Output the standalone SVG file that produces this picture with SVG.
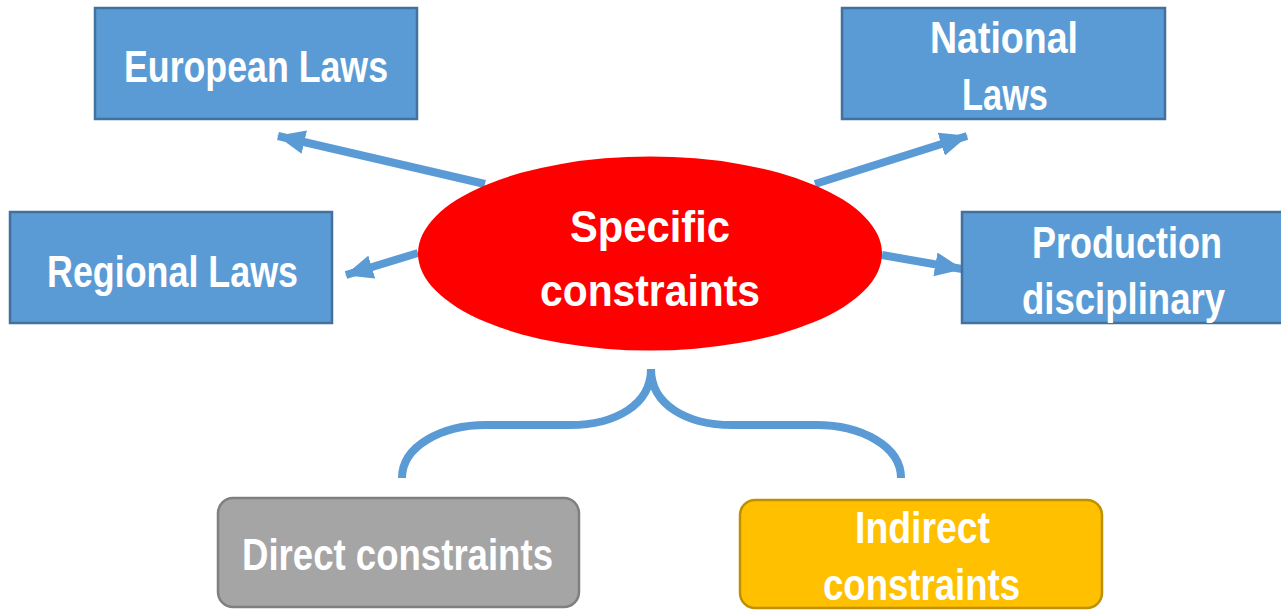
<svg xmlns="http://www.w3.org/2000/svg" width="1281" height="613" viewBox="0 0 1281 613">
<style>
.box{fill:#5B9BD5;stroke:#41719C;stroke-width:2.5}
.t{font-family:"Liberation Sans Narrow","Liberation Sans",Arial,sans-serif;font-weight:bold;fill:#FFFFFF;font-size:45px}
.conn{stroke:#5B9BD5;stroke-width:8;fill:none}
</style>
<defs>
<marker id="ah" viewBox="0 0 28 24" refX="27" refY="12" markerWidth="28" markerHeight="24" markerUnits="userSpaceOnUse" orient="auto">
<path d="M0,0 L28,12 L0,24 Z" fill="#5B9BD5"/>
</marker>
</defs>
<rect width="1281" height="613" fill="#FFFFFF"/>
<g id="connectors">
<line class="conn" x1="485" y1="184" x2="278" y2="136" marker-end="url(#ah)"/>
<line class="conn" x1="418" y1="253" x2="346" y2="275" marker-end="url(#ah)"/>
<line class="conn" x1="815" y1="184" x2="967" y2="136" marker-end="url(#ah)"/>
<line class="conn" x1="882" y1="255" x2="962" y2="269" marker-end="url(#ah)"/>
<path class="conn" d="M402,478 C402,446 442,425 486,425 L570,425 C615,425 651,405 651,369"/>
<path class="conn" d="M651,369 C651,405 687,425 732,425 L816,425 C861,425 901,446 901,478"/>
</g>
<g id="european">
<rect class="box" x="95" y="8" width="322" height="111"/>
<text class="t" x="124" y="82" textLength="264" lengthAdjust="spacingAndGlyphs">European Laws</text>
</g>
<g id="national">
<rect class="box" x="842" y="8" width="323" height="111"/>
<text class="t" x="930" y="53" textLength="148" lengthAdjust="spacingAndGlyphs">National</text>
<text class="t" x="962" y="110" textLength="86" lengthAdjust="spacingAndGlyphs">Laws</text>
</g>
<g id="regional">
<rect class="box" x="10" y="212" width="322" height="111"/>
<text class="t" x="47" y="287" textLength="251" lengthAdjust="spacingAndGlyphs">Regional Laws</text>
</g>
<g id="production">
<rect class="box" x="962" y="212" width="330" height="111"/>
<text class="t" x="1032" y="258" textLength="190" lengthAdjust="spacingAndGlyphs">Production</text>
<text class="t" x="1022" y="314" textLength="203" lengthAdjust="spacingAndGlyphs">disciplinary</text>
</g>
<g id="specific">
<ellipse cx="650" cy="253.5" rx="232" ry="97" fill="#FF0000"/>
<text class="t" x="570" y="242" textLength="160" lengthAdjust="spacingAndGlyphs">Specific</text>
<text class="t" x="540" y="306" textLength="220" lengthAdjust="spacingAndGlyphs">constraints</text>
</g>
<g id="direct">
<rect x="218" y="498" width="361" height="109" rx="15" fill="#A5A5A5" stroke="#7F7F7F" stroke-width="2.5"/>
<text class="t" x="242" y="570" textLength="311" lengthAdjust="spacingAndGlyphs">Direct constraints</text>
</g>
<g id="indirect">
<rect x="740" y="500" width="362" height="108" rx="15" fill="#FFC000" stroke="#BF9000" stroke-width="2.5"/>
<text class="t" x="855" y="543" textLength="135" lengthAdjust="spacingAndGlyphs">Indirect</text>
<text class="t" x="823" y="600" textLength="197" lengthAdjust="spacingAndGlyphs">constraints</text>
</g>
</svg>
